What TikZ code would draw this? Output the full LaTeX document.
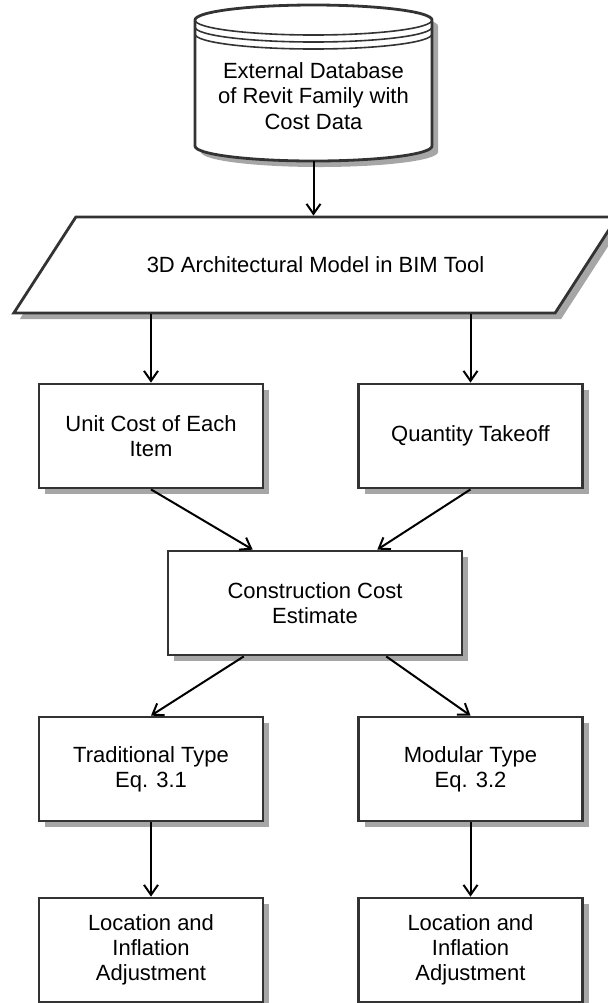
\documentclass[tikz,border=0pt]{standalone}
\usepackage{fontspec}
\setmainfont{Liberation Sans}
\usetikzlibrary{positioning,shapes.geometric,shadows,arrows.meta,calc}

\tikzset{
  box/.style={draw=black!80, line width=1.4pt, fill=white, align=center,
    minimum width=112pt, minimum height=52pt,
    drop shadow={shadow xshift=3pt, shadow yshift=-3pt, fill=black!35, opacity=1}},
  link/.style={line width=1pt, -{Straight Barb[length=5pt,width=7pt,line width=1pt]}},
  rim/.style={draw=black!80, line width=1.4pt},
}

\begin{document}
\begin{tikzpicture}[x=0.5pt,y=-0.5pt,font=\fontsize{11pt}{12.6pt}\selectfont]
      \useasboundingbox (0,0) rectangle (608,1003);
      \clip (0,0) rectangle (608,1003);

      % Database cylinder, shadow first
      \fill[black!35] (201,26) -- (201,152) arc[start angle=180,end angle=360,x radius=59.25pt,y radius=7.5pt]
        -- (438,26) arc[start angle=0,end angle=180,x radius=59.25pt,y radius=7.5pt] -- cycle;
      \draw[rim, fill=white] (195,20) -- (195,146) arc[start angle=180,end angle=360,x radius=59.25pt,y radius=7.5pt]
        -- (432,20) arc[start angle=0,end angle=180,x radius=59.25pt,y radius=7.5pt] -- cycle;
      \foreach \yy in {20,27,34} {
          \draw[rim, line width=0.8pt] (195,\yy) arc[start angle=180,end angle=360,x radius=59.25pt,y radius=7.5pt];
      }
      \node[align=center] (db) at (313.5,96) {External Database\\of Revit Family with\\Cost Data};
      \coordinate (dbbot) at (313.5,161);

      % BIM model
      \node[trapezium, trapezium left angle=33, trapezium right angle=147, trapezium stretches=true,
        draw=black!80, line width=1.4pt, fill=white, minimum width=302.5pt, minimum height=48pt,
        drop shadow={shadow xshift=3pt, shadow yshift=-3pt, fill=black!35, opacity=1}]
        (model) at (315.5,265) {3D Architectural Model in BIM Tool};

      % Boxes
      \node[box] (unit) at (151,436) {Unit Cost of Each\\Item};
      \node[box] (qty) at (470.5,436) {Quantity Takeoff};
      \node[box, minimum width=147pt] (cce) at (315,603) {Construction Cost\\Estimate};
      \node[box] (trad) at (151,769) {Traditional Type\\Eq. 3.1};
      \node[box] (mod) at (470.5,769) {Modular Type\\Eq. 3.2};
      \node[box] (loc1) at (151,950) {Location and\\Inflation\\Adjustment};
      \node[box] (loc2) at (470.5,950) {Location and\\Inflation\\Adjustment};

      % Arrows
      \draw[link] (dbbot) -- (dbbot |- model.north);
      \draw[link] (unit.north |- model.south) -- (unit.north);
      \draw[link] (qty.north |- model.south) -- (qty.north);
      \draw[link] (unit.south) -- ($(cce.north west)!0.29!(cce.north east)$);
      \draw[link] (qty.south) -- ($(cce.north west)!0.71!(cce.north east)$);
      \draw[link] ($(cce.south west)!0.26!(cce.south east)$) -- (trad.north);
      \draw[link] ($(cce.south west)!0.74!(cce.south east)$) -- (mod.north);
      \draw[link] (trad) -- (loc1);
      \draw[link] (mod) -- (loc2);
    \end{tikzpicture}
\end{document}
